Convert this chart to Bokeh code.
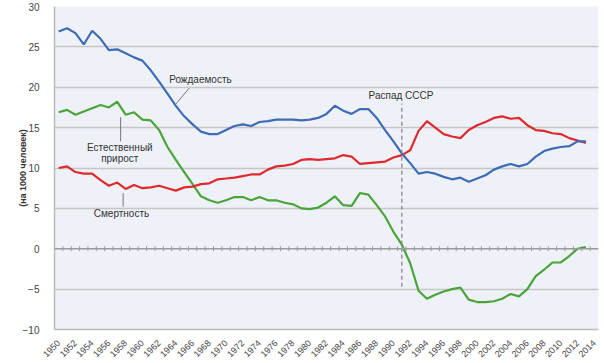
from math import pi
from bokeh.plotting import figure
from bokeh.models import FixedTicker, Span, Label, ColumnDataSource
from bokeh.embed import file_html
from bokeh.resources import INLINE

years = list(range(1950, 2014))

birth_rate = [26.9, 27.3, 26.7, 25.3, 27.0, 26.0, 24.6, 24.7, 24.2, 23.7,
              23.3, 22.1, 20.7, 19.2, 17.7, 16.4, 15.4, 14.5, 14.2, 14.2,
              14.7, 15.2, 15.4, 15.2, 15.7, 15.8, 16.0, 16.0, 16.0, 15.9,
              16.0, 16.2, 16.7, 17.7, 17.1, 16.7, 17.3, 17.3, 16.2, 14.7,
              13.3, 11.8, 10.6, 9.3, 9.5, 9.3, 8.9, 8.6, 8.8, 8.3,
              8.7, 9.1, 9.8, 10.2, 10.5, 10.2, 10.5, 11.4, 12.1, 12.4,
              12.6, 12.7, 13.3, 13.3]

death_rate = [10.0, 10.2, 9.5, 9.3, 9.3, 8.5, 7.8, 8.2, 7.4, 7.9,
              7.5, 7.6, 7.8, 7.5, 7.2, 7.6, 7.7, 8.0, 8.1, 8.6,
              8.7, 8.8, 9.0, 9.2, 9.2, 9.8, 10.2, 10.3, 10.5, 11.0,
              11.1, 11.0, 11.1, 11.2, 11.6, 11.4, 10.5, 10.6, 10.7, 10.8,
              11.3, 11.6, 12.2, 14.6, 15.8, 15.0, 14.2, 13.9, 13.7, 14.7,
              15.3, 15.7, 16.2, 16.4, 16.1, 16.2, 15.3, 14.7, 14.6, 14.3,
              14.2, 13.7, 13.4, 13.1]

natural_increase = [16.9, 17.2, 16.6, 17.0, 17.4, 17.8, 17.5, 18.2, 16.6, 16.9,
                    16.0, 15.9, 14.7, 12.6, 11.0, 9.5, 8.0, 6.5, 6.0, 5.7,
                    6.0, 6.4, 6.4, 6.0, 6.4, 6.0, 6.0, 5.7, 5.5, 5.0,
                    4.9, 5.1, 5.7, 6.5, 5.4, 5.3, 6.9, 6.7, 5.4, 4.0,
                    2.1, 0.5, -1.8, -5.2, -6.2, -5.7, -5.3, -5.0, -4.8, -6.3,
                    -6.6, -6.6, -6.5, -6.2, -5.6, -5.9, -5.0, -3.4, -2.6, -1.7,
                    -1.7, -0.9, 0.0, 0.2]

x_tick_years = [1950, 1952, 1954, 1956, 1958, 1960, 1962, 1964, 1966, 1968,
                1970, 1972, 1974, 1976, 1978, 1980, 1982, 1984, 1986, 1988,
                1990, 1992, 1994, 1996, 1998, 2000, 2002, 2004, 2006, 2008,
                2010, 2012, 2014]
y_ticks = [-10, -5, 0, 5, 10, 15, 20, 25, 30]
grid_ticks = [-5, 5, 10, 15, 20, 25, 30]
ussr_collapse_year = 1991

FONT = "Liberation Sans"
TXT = "#333333"

p = figure(width=604, height=363, x_range=(1949.5, 2014.5), y_range=(-10, 30),
           min_border_left=54, min_border_right=6, min_border_top=6,
           min_border_bottom=34, output_backend="svg", toolbar_location=None)

p.background_fill_color = "#eef1f7"
p.border_fill_color = "white"
p.outline_line_color = None

# grid
p.xgrid.grid_line_color = None
p.ygrid.ticker = FixedTicker(ticks=grid_ticks)
p.ygrid.grid_line_color = "#c6c6c6"
p.ygrid.grid_line_width = 1.6

# axes
p.xaxis.ticker = FixedTicker(ticks=x_tick_years)
p.xaxis.major_label_orientation = pi / 4
p.xaxis.major_label_text_font = FONT
p.xaxis.major_label_text_font_size = "9px"
p.xaxis.major_label_text_color = "#444444"
p.xaxis.major_tick_line_color = None
p.xaxis.minor_tick_line_color = None
p.xaxis.axis_line_color = "#bbbbbb"
p.xaxis.axis_line_width = 1.5
p.xaxis.major_label_standoff = 6

p.yaxis.ticker = FixedTicker(ticks=y_ticks)
p.yaxis.major_label_text_font = FONT
p.yaxis.major_label_text_font_size = "10px"
p.yaxis.major_label_text_color = "#444444"
p.yaxis.major_tick_line_color = None
p.yaxis.minor_tick_line_color = None
p.yaxis.axis_line_color = "#bbbbbb"
p.yaxis.axis_line_width = 1.5
p.yaxis.major_label_standoff = 9
p.yaxis.axis_label = "(на 1000 человек)"
p.yaxis.axis_label_text_font = FONT
p.yaxis.axis_label_text_font_style = "bold"
p.yaxis.axis_label_text_font_size = "9px"
p.yaxis.axis_label_text_color = TXT
p.yaxis.axis_label_standoff = -8

# zero line with year ticks
p.add_layout(Span(location=0, dimension="width", line_color="#9a9a9a", line_width=1.3))
bounds = [y + 0.5 for y in years]
p.segment(x0=bounds, x1=bounds, y0=[-0.3] * len(bounds), y1=[0.3] * len(bounds),
          line_color="#9a9a9a", line_width=1)

src = ColumnDataSource(dict(year=years, birth=birth_rate, death=death_rate,
                            nat=natural_increase))

p.line("year", "nat", source=src, line_color="#4aa43a", line_width=2.2)
p.line("year", "death", source=src, line_color="#de2a2e", line_width=2.2)
p.line("year", "birth", source=src, line_color="#3d6cb4", line_width=2.2)

# USSR collapse marker
p.segment(x0=[ussr_collapse_year], x1=[ussr_collapse_year], y0=[-4.7], y1=[18.0],
          line_color="#888888", line_width=1.3, line_dash="4 3")

def label(x, y, text, align="center"):
    p.add_layout(Label(x=x, y=y, text=text, text_align=align, text_baseline="middle",
                       text_font=FONT, text_font_size="10px", text_color=TXT))

label(ussr_collapse_year - 0.1, 19.0, "Распад СССР")
label(1963.2, 21.0, "Рождаемость", align="left")
label(1957.3, 12.6, "Естественный")
label(1957.3, 11.2, "прирост")
label(1957.5, 4.4, "Смертность")

# leader lines
p.segment(x0=[1965.6, 1957.4, 1957.7], x1=[1963.9, 1957.4, 1957.7],
          y0=[19.9, 16.3, 6.9], y1=[17.8, 13.3, 5.2],
          line_color="#777777", line_width=1)

open("out.html", "w").write(file_html(p, INLINE))
